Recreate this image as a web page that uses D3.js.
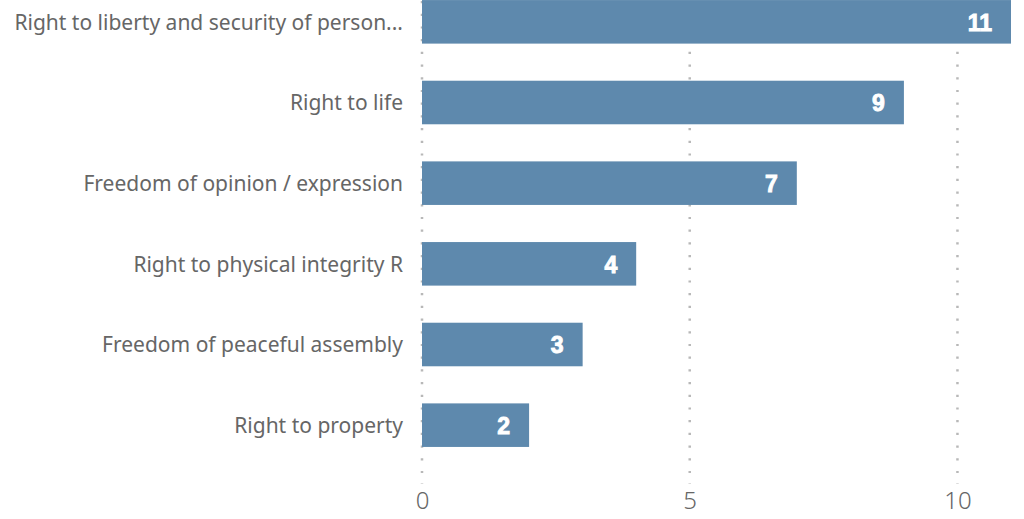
<!DOCTYPE html>
<html>
<head>
<meta charset="utf-8">
<script src="https://cdn.jsdelivr.net/npm/d3@7"></script>
<style>
  body { margin: 0; background: #fff; }
</style>
</head>
<body>
<div id="chart-area"></div>
<script>
// categories and counts, top to bottom
var categories = [
    "Right to liberty and security of person...",
    "Right to life",
    "Freedom of opinion / expression",
    "Right to physical integrity R",
    "Freedom of peaceful assembly",
    "Right to property"
];
var counts = [11, 9, 7, 4, 3, 2];
var tickValues = [0, 5, 10];

var width = 1024,
    height = 519;

var svg = d3.select("#chart-area").append("svg")
    .attr("width", width)
    .attr("height", height);

var data = categories.map(function(c, i) { return { name: c, value: counts[i] }; });

// x scale
var xScale = d3.scaleLinear()
    .domain([0, 11])
    .range([422, 1011]);

// y scale
var yScale = d3.scaleBand()
    .domain(categories)
    .range([-18.5, 465.5])
    .paddingInner(0.46)
    .paddingOuter(0.23);

// dotted gridlines
svg.selectAll(".grid")
    .data(tickValues)
    .enter()
    .append("line")
    .attr("x1", function(d) { return xScale(d); })
    .attr("x2", function(d) { return xScale(d); })
    .attr("y1", 1)
    .attr("y2", 484)
    .attr("stroke", "#b8b8b8")
    .attr("stroke-width", 2.5)
    .attr("stroke-dasharray", "2.2,10.5");

// bars
svg.selectAll(".bar")
    .data(data)
    .enter()
    .append("rect")
    .attr("x", xScale(0))
    .attr("y", function(d) { return yScale(d.name); })
    .attr("width", function(d) { return xScale(d.value) - xScale(0); })
    .attr("height", yScale.bandwidth())
    .attr("fill", "#5e89ad");

// value labels inside bars
svg.selectAll(".val")
    .data(data)
    .enter()
    .append("text")
    .text(function(d) { return d.value; })
    .attr("x", function(d) { return xScale(d.value) - 19; })
    .attr("y", function(d) { return yScale(d.name) + yScale.bandwidth() / 2; })
    .attr("dy", "0.38em")
    .attr("text-anchor", "end")
    .style("fill", "white")
    .style("stroke", "white")
    .style("stroke-width", "0.9px")
    .style("font-family", "'Liberation Sans', Arial, sans-serif")
    .style("font-weight", "bold")
    .style("font-size", "23px");

// category labels
var yAxis = d3.axisLeft(yScale).tickSize(0).tickPadding(0);
var yg = svg.append("g")
    .attr("transform", "translate(403,0)")
    .call(yAxis);
yg.select(".domain").remove();
yg.selectAll("text")
    .attr("dy", "0.38em")
    .style("fill", "#666")
    .style("font-family", "'Noto Sans', sans-serif")
    .style("font-size", "21px");

// x axis tick labels
var xAxis = d3.axisBottom(xScale).tickValues(tickValues).tickSize(0).tickPadding(0);
var xg = svg.append("g")
    .attr("transform", "translate(0,492)")
    .call(xAxis);
xg.select(".domain").remove();
xg.selectAll("text")
    .attr("dy", "0.71em")
    .style("fill", "#666")
    .style("font-family", "'Noto Sans', sans-serif")
    .style("font-weight", "300")
    .style("font-size", "24px");
</script>
</body>
</html>
